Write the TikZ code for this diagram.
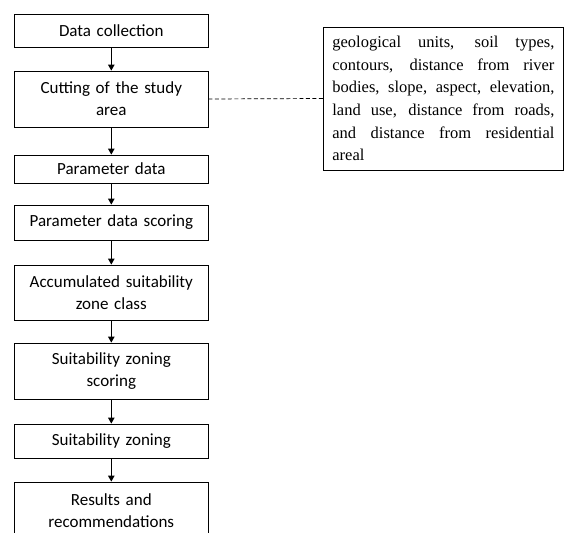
\documentclass[tikz,border=0pt]{standalone}
\usepackage{fontspec}
\setmainfont{Carlito}
\newfontfamily\notefont{Liberation Serif}
\usetikzlibrary{arrows.meta}
\begin{document}
\begin{tikzpicture}[x=1pt,y=-1pt,
  flowbox/.style={draw,line width=0.8pt,minimum width=193.3pt,inner sep=2pt,
    text width=189pt,align=center,font=\fontsize{17}{21.7}\selectfont},
  flowarrow/.style={line width=0.9pt,-{Triangle[width=6.5pt,length=6pt]}},
  notebox/.style={draw,line width=0.8pt,text width=222pt,inner xsep=9pt,
    minimum height=143pt,align=justify,font=\notefont\fontsize{16.5}{22.7}\selectfont},
  linkline/.style={line width=0.7pt,dash pattern=on 4pt off 2.5pt}]
\useasboundingbox (0,0) rectangle (564,532);
\node[flowbox,minimum height=33pt] (b1) at (111.3,30.5) {Data collection};
\node[flowbox,minimum height=56pt] (b2) at (111.3,99) {Cutting of the study\\area};
\node[flowbox,minimum height=28pt] (b3) at (111.3,169) {Parameter data};
\node[flowbox,minimum height=35pt] (b4) at (111.3,222.5) {Parameter data scoring};
\node[flowbox,minimum height=55pt] (b5) at (111.3,292.5) {Accumulated suitability\\zone class};
\node[flowbox,minimum height=56pt] (b6) at (111.3,371) {Suitability zoning\\scoring};
\node[flowbox,minimum height=34pt] (b7) at (111.3,441) {Suitability zoning};
\node[flowbox,minimum height=58pt] (b8) at (111.3,511) {Results and\\recommendations};
\node[notebox,anchor=west] (note) at (323,98.5) {\hyphenpenalty=10000 geological units, soil types,\linebreak contours, distance from river\linebreak bodies, slope, aspect, elevation,\linebreak land use, distance from roads,\linebreak and distance from residential\linebreak areal};
\draw[flowarrow] (b1) -- (b2);
\draw[flowarrow] (b2) -- (b3);
\draw[flowarrow] (b3) -- (b4);
\draw[flowarrow] (b4) -- (b5);
\draw[flowarrow] (b5) -- (b6);
\draw[flowarrow] (b6) -- (b7);
\draw[flowarrow] (b7) -- (b8);
\draw[linkline] (b2.east) -- (note.west);
\end{tikzpicture}
\end{document}
